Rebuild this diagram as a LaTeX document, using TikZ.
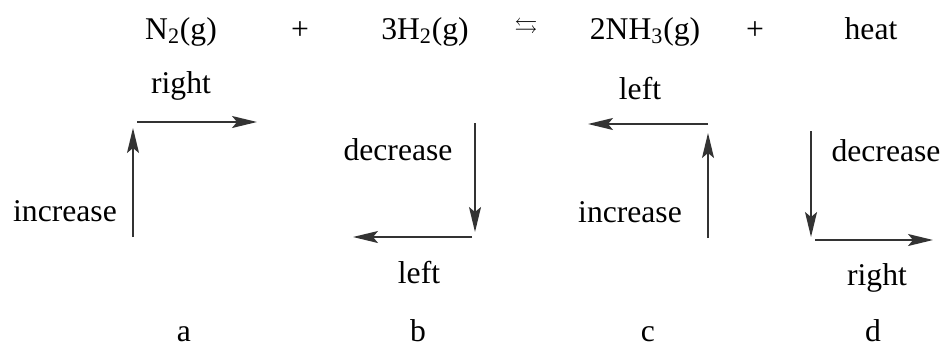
\documentclass[tikz,border=0pt]{standalone}
\usepackage{amssymb}
\usepackage{fontspec}
\setmainfont{Liberation Serif}
\usetikzlibrary{arrows.meta}

\begin{document}
\begin{tikzpicture}[
  x=0.02cm, y=-0.02cm,
  font=\fontsize{18}{21}\selectfont,
  term/.style={anchor=base, inner sep=0pt},
  lbl/.style={anchor=base, inner sep=0pt},
  move/.style={-{Stealth[length=5mm, width=2.4mm, inset=1mm]}, line width=0.9pt, draw=black!80}
]
\useasboundingbox (0,0) rectangle (945,349);

% reaction
\node[term] (n2) at (181,39) {N\textsubscript{2}(g)};
\node[term] (p1) at (300,39) {+};
\node[term] (h2) at (425,39) {3H\textsubscript{2}(g)};
\node[inner sep=0pt, font=\fontsize{13}{15}\selectfont] (eq) at (526,28) {$\leftrightarrows$};
\node[term] (nh3) at (645,39) {2NH\textsubscript{3}(g)};
\node[term] (p2) at (755,39) {+};
\node[term] (heat) at (871,39) {heat};

% case a
\coordinate (a0) at (133,237);
\coordinate (a1) at (133,128);
\coordinate (a2) at (137,122);
\coordinate (a3) at (257,122);
\draw[move] (a0) -- (a1);
\draw[move] (a2) -- (a3);
\node[lbl] (aup) at (65,221) {increase};
\node[lbl] (aright) at (181,93) {right};
\node[lbl] (ta) at (184,341) {a};

% case b
\coordinate (b0) at (475,123);
\coordinate (b1) at (475,232);
\coordinate (b2) at (472,237);
\coordinate (b3) at (353,237);
\draw[move] (b0) -- (b1);
\draw[move] (b2) -- (b3);
\node[lbl] (bdown) at (398,160) {decrease};
\node[lbl] (bleft) at (419,283) {left};
\node[lbl] (tb) at (418,341) {b};

% case c
\coordinate (c0) at (708,238);
\coordinate (c1) at (708,133);
\coordinate (c2) at (708,124);
\coordinate (c3) at (588,124);
\draw[move] (c0) -- (c1);
\draw[move] (c2) -- (c3);
\node[lbl] (cup) at (630,222) {increase};
\node[lbl] (cleft) at (640,99) {left};
\node[lbl] (tc) at (648,341) {c};

% case d
\coordinate (d0) at (811,131);
\coordinate (d1) at (811,237);
\coordinate (d2) at (815,240);
\coordinate (d3) at (933,240);
\draw[move] (d0) -- (d1);
\draw[move] (d2) -- (d3);
\node[lbl] (ddown) at (886,161) {decrease};
\node[lbl] (dright) at (877,285) {right};
\node[lbl] (td) at (873,341) {d};

\end{tikzpicture}
\end{document}
